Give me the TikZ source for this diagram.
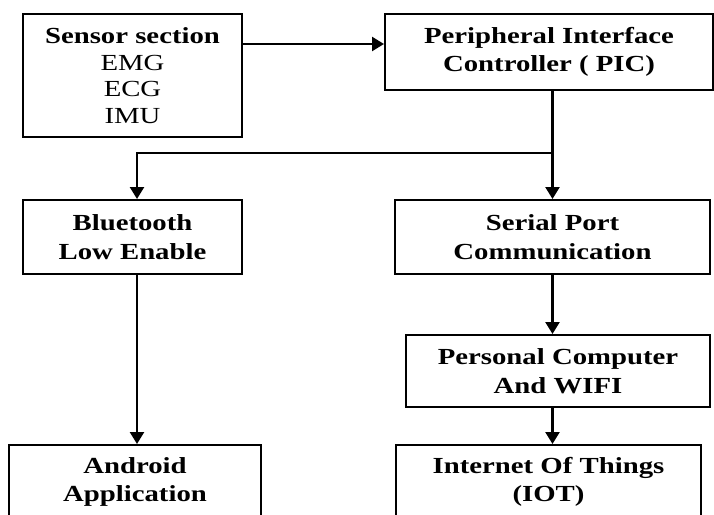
\documentclass[tikz,border=0pt]{standalone}
\usepackage{fontspec}
\setmainfont[FakeStretch=1.25]{Liberation Serif}
\usetikzlibrary{arrows.meta,calc}
\begin{document}
\begin{tikzpicture}[x=1pt,y=-1pt,
 box/.style={draw, line width=2pt, align=center, inner sep=0pt, font=\fontsize{23}{28.5}\selectfont\bfseries},
 plainbox/.style={box, font=\fontsize{23}{26.5}\selectfont},
 arr/.style={line width=2.4pt, -{Triangle[length=12pt,width=14pt]}}]
\useasboundingbox (0,0) rectangle (714,514);
\clip (0,0) rectangle (714,514);
\node[plainbox, minimum width=219, minimum height=123] (sensor) at (132.5,75.5) {{\bfseries Sensor section}\\EMG\\ECG\\IMU};
\node[box, minimum width=328, minimum height=76] (pic) at (549,52) {Peripheral Interface\\Controller ( PIC)};
\node[box, minimum width=219, minimum height=74] (bt) at (132.5,237) {Bluetooth\\Low Enable};
\node[box, minimum width=315, minimum height=74] (serial) at (552.5,237) {Serial Port\\Communication};
\node[box, minimum width=304, minimum height=72] (pc) at (558,371) {Personal Computer\\And WIFI};
\node[box, minimum width=252, minimum height=74] (android) at (135,482) {Android\\Application};
\node[box, minimum width=305, minimum height=74] (iot) at (548.5,482) {Internet Of Things\\(IOT)};
\coordinate (br) at ($(serial.north)+(0,-46)$);
\draw[arr] ([yshift=-31pt]sensor.north east) -- ([yshift=-31pt]pic.north west);
\draw[arr] (pic.south -| serial.north) -- (serial.north);
\draw[arr] (br) -| ([xshift=4.5pt]bt.north);
\draw[arr] ([xshift=4.5pt]bt.south) -- ([xshift=4.5pt]bt.south |- android.north);
\draw[arr] (serial.south) -- (serial.south |- pc.north);
\draw[arr] (pc.south -| serial.south) -- (iot.north -| serial.south);
\end{tikzpicture}
\end{document}
